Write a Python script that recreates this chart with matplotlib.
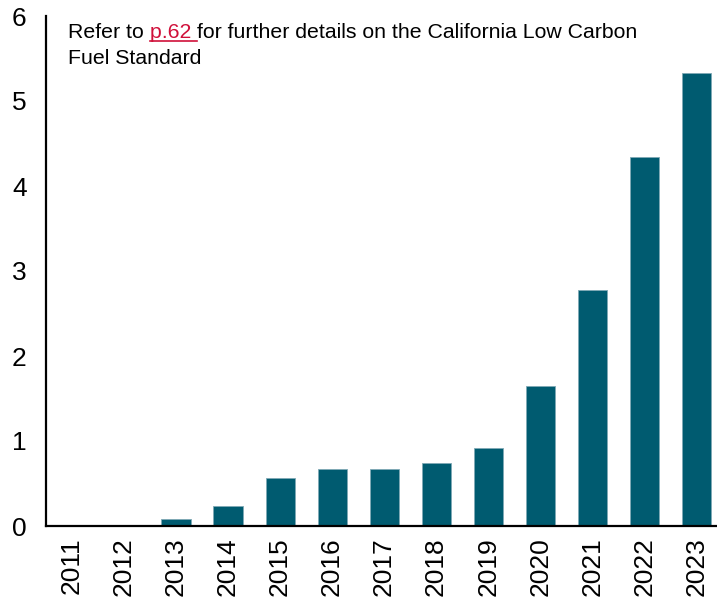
import matplotlib
matplotlib.use("Agg")
from matplotlib import pyplot as plt

plt.rcParams['font.family'] = ['Liberation Sans', 'DejaVu Sans']

# annual values
years = ['2011', '2012', '2013', '2014', '2015', '2016', '2017',
         '2018', '2019', '2020', '2021', '2022', '2023']
values = [0.01, 0.01, 0.08, 0.23, 0.56, 0.67, 0.67, 0.74, 0.92, 1.65, 2.78, 4.34, 5.33]
yticks = [0, 1, 2, 3, 4, 5, 6]

bar_color = '#005b70'
link_color = '#d0103a'

fig = plt.figure(figsize=(7.17, 5.97), dpi=100)
ax = fig.add_axes([46/717, 71/597, 1 - 46/717, 510/597])

x = range(len(years))
ax.bar(x, values, width=0.56, color=bar_color, edgecolor='#7fa9b5', linewidth=0.6)

ax.set_xlim(-0.5, 12.4)
ax.set_ylim(0, 6)
ax.set_xticks(list(x))
ax.set_xticklabels(years, rotation=90, fontsize=19)
ax.set_yticks(yticks)
ax.set_yticklabels([str(t) for t in yticks], fontsize=19)
ax.tick_params(axis='both', length=0)
ax.tick_params(axis='y', pad=14)
ax.tick_params(axis='x', pad=8)

for side in ['top', 'right']:
    ax.spines[side].set_visible(False)
for side in ['left', 'bottom']:
    ax.spines[side].set_linewidth(1.6)
    ax.spines[side].set_color('black')

# note with the red link
fs = 15.3
x0, y1, y2 = 68/717, 1 - 33/597, 1 - 59/597
t1 = fig.text(x0, y1, 'Refer to ', fontsize=fs, va='center', ha='left')
fig.canvas.draw()
r = fig.canvas.get_renderer()
bb1 = t1.get_window_extent(r)
t2 = fig.text(bb1.x1 / 717, y1, 'p.62 ', fontsize=fs, va='center', ha='left', color=link_color)
bb2 = t2.get_window_extent(r)
fig.text(bb2.x1 / 717, y1, 'for further details on the California Low Carbon',
         fontsize=fs, va='center', ha='left')
uy = (bb2.y0 + 2) / 597
fig.add_artist(plt.Line2D([bb2.x0 / 717, bb2.x1 / 717], [uy, uy], color=link_color, linewidth=1.2))
fig.text(x0, y2, 'Fuel Standard', fontsize=fs, va='center', ha='left')

fig.savefig('out.png', dpi=100)
